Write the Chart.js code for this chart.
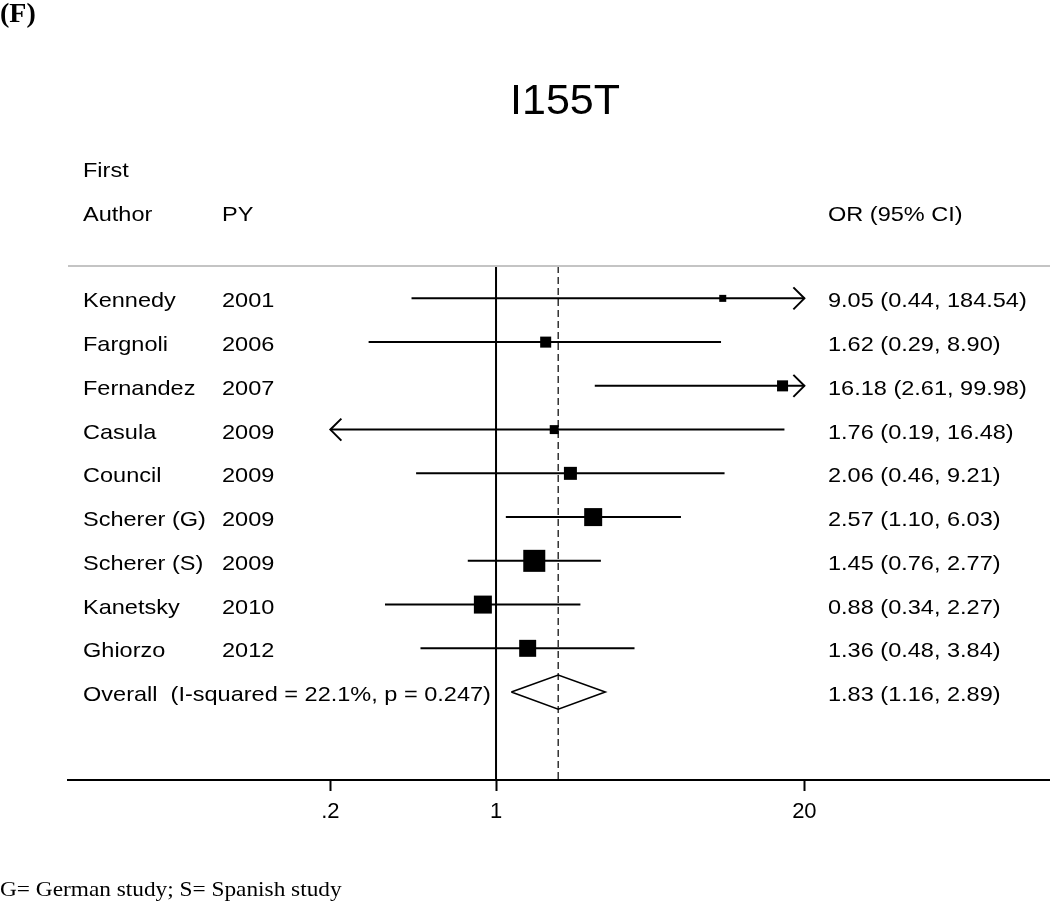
<!DOCTYPE html>
<html>
<head>
<meta charset="utf-8">
<script src="https://cdn.jsdelivr.net/npm/chart.js@4/dist/chart.umd.min.js"></script>
<style>
  html, body { margin: 0; padding: 0; background: #fff; }
  canvas { display: block; }
</style>
</head>
<body>
<canvas id="forest" width="1050" height="903"></canvas>
<script>
// study data
const authors = ['Kennedy', 'Fargnoli', 'Fernandez', 'Casula', 'Council', 'Scherer (G)', 'Scherer (S)', 'Kanetsky', 'Ghiorzo'];
const years = ['2001', '2006', '2007', '2009', '2009', '2009', '2009', '2010', '2012'];
const orVals = [9.05, 1.62, 16.18, 1.76, 2.06, 2.57, 1.45, 0.88, 1.36];
const ciLow = [0.44, 0.29, 2.61, 0.19, 0.46, 1.10, 0.76, 0.34, 0.48];
const ciHigh = [184.54, 8.90, 99.98, 16.48, 9.21, 6.03, 2.77, 2.27, 3.84];
const weights = [2.5, 6.2, 6.2, 4.1, 8.6, 16.5, 24.7, 16.5, 14.7];

const overallOR = 1.83;
const overallLow = 1.16;
const overallHigh = 2.89;
const overallLabel = 'Overall  (I-squared = 22.1%, p = 0.247)';

const tickVals = [0.2, 1, 20];
const tickLabels = ['.2', '1', '20'];

// display limits for CIs (arrows beyond)
const clipLow = 0.2, clipHigh = 20;

const SANS = '"Liberation Sans", Arial, Helvetica, sans-serif';
const SERIF = '"Liberation Serif", "Times New Roman", serif';
const nRows = authors.length;
const yMin = -0.74, yMax = 11.01;
const xMin = 0.01563, xMax = 217.5;

const fmt = v => v.toFixed(2);

// CI line datasets
const ciSets = orVals.map((v, i) => ({
  type: 'line',
  data: [{ x: Math.max(ciLow[i], clipLow), y: i }, { x: Math.min(ciHigh[i], clipHigh), y: i }],
  borderColor: '#000',
  borderWidth: 2,
  pointRadius: 0,
  fill: false,
  order: 3
}));

const boxRadius = weights.map(w => 4.43 * Math.sqrt(w) / Math.SQRT2);
const boxSet = {
  type: 'scatter',
  data: orVals.map((v, i) => ({ x: v, y: i })),
  pointStyle: 'rect',
  pointRadius: boxRadius,
  pointHoverRadius: boxRadius,
  backgroundColor: '#000',
  borderColor: '#000',
  borderWidth: 0,
  order: 1
};

const nullLine = {
  type: 'line',
  data: [{ x: 1, y: yMin }, { x: 1, y: yMax }],
  borderColor: '#000',
  borderWidth: 2,
  pointRadius: 0,
  order: 4
};

const overallLine = {
  type: 'line',
  data: [{ x: overallOR, y: yMin }, { x: overallOR, y: yMax }],
  borderColor: '#333',
  borderWidth: 1.5,
  borderDash: [7, 4],
  pointRadius: 0,
  order: 4
};

const oy = nRows;
const diamond = {
  type: 'line',
  data: [
    { x: overallLow, y: oy }, { x: overallOR, y: oy - 0.39 },
    { x: overallHigh, y: oy }, { x: overallOR, y: oy + 0.39 },
    { x: overallLow, y: oy }
  ],
  borderColor: '#000',
  borderWidth: 1.6,
  pointRadius: 0,
  fill: false,
  tension: 0,
  order: 2
};

function stretchText(ctx, text, x, y, sx) {
  ctx.save();
  ctx.translate(x, y);
  ctx.scale(sx, 1);
  ctx.fillText(text, 0, 0);
  ctx.restore();
}

const forestText = {
  id: 'forestText',
  afterDraw(chart) {
    const ctx = chart.ctx;
    const xs = chart.scales.x, ys = chart.scales.y;
    const area = chart.chartArea;
    const sx = 1.12;
    ctx.save();
    ctx.fillStyle = '#000';
    ctx.textBaseline = 'alphabetic';
    ctx.textAlign = 'left';

    // header rule
    ctx.strokeStyle = '#c4c4c4';
    ctx.lineWidth = 2;
    ctx.beginPath();
    ctx.moveTo(area.left, area.top);
    ctx.lineTo(area.right, area.top);
    ctx.stroke();

    // panel label and title
    ctx.font = 'bold 28px ' + SERIF;
    ctx.fillText('(F)', 0, 22);
    ctx.font = '43px ' + SANS;
    ctx.textAlign = 'center';
    ctx.fillText('I155T', 565, 114);
    ctx.textAlign = 'left';

    // column headers
    ctx.font = '21px ' + SANS;
    stretchText(ctx, 'First', 83, 177, sx);
    stretchText(ctx, 'Author', 83, 221, sx);
    stretchText(ctx, 'PY', 222, 221, sx);
    stretchText(ctx, 'OR (95% CI)', 828, 221, sx);

    // rows
    orVals.forEach((v, i) => {
      const y = ys.getPixelForValue(i) + 9;
      stretchText(ctx, authors[i], 83, y, sx);
      stretchText(ctx, years[i], 222, y, sx);
      stretchText(ctx, fmt(v) + ' (' + fmt(ciLow[i]) + ', ' + fmt(ciHigh[i]) + ')', 828, y, sx);
    });
    const yo = ys.getPixelForValue(nRows) + 9;
    stretchText(ctx, overallLabel, 83, yo, sx);
    stretchText(ctx, fmt(overallOR) + ' (' + fmt(overallLow) + ', ' + fmt(overallHigh) + ')', 828, yo, sx);

    // arrowheads for clipped CIs
    ctx.strokeStyle = '#000';
    ctx.lineWidth = 2;
    orVals.forEach((v, i) => {
      const y = ys.getPixelForValue(i);
      if (ciHigh[i] > clipHigh) {
        const x = xs.getPixelForValue(clipHigh);
        ctx.beginPath();
        ctx.moveTo(x - 11, y - 11); ctx.lineTo(x, y); ctx.lineTo(x - 11, y + 11);
        ctx.stroke();
      }
      if (ciLow[i] < clipLow) {
        const x = xs.getPixelForValue(clipLow);
        ctx.beginPath();
        ctx.moveTo(x + 11, y - 11); ctx.lineTo(x, y); ctx.lineTo(x + 11, y + 11);
        ctx.stroke();
      }
    });

    // footnote
    ctx.font = '21px ' + SERIF;
    stretchText(ctx, 'G= German study; S= Spanish study', 0, 896, 1.11);
    ctx.restore();
  }
};

new Chart(document.getElementById('forest'), {
  type: 'scatter',
  data: { datasets: [...ciSets, boxSet, diamond, nullLine, overallLine] },
  options: {
    responsive: false,
    animation: false,
    layout: { autoPadding: false, padding: { left: 68, right: 0, top: 266, bottom: 0 } },
    plugins: { legend: { display: false }, tooltip: { enabled: false } },
    scales: {
      x: {
        type: 'logarithmic',
        min: xMin,
        max: xMax,
        bounds: 'data',
        afterBuildTicks: s => { s.ticks = tickVals.map(v => ({ value: v })); },
        afterFit: s => { s.height = 123; s.paddingLeft = 0; s.paddingRight = 0; },
        ticks: {
          autoSkip: false,
          maxRotation: 0,
          padding: 8,
          color: '#000',
          font: { family: SANS, size: 22 },
          callback: (v, i) => tickLabels[i]
        },
        grid: { drawOnChartArea: false, drawTicks: true, tickLength: 11, tickColor: '#000', tickWidth: 2 },
        border: { display: true, color: '#000', width: 2 }
      },
      y: {
        type: 'linear',
        reverse: true,
        min: yMin,
        max: yMax,
        display: false
      }
    }
  },
  plugins: [forestText]
});
</script>
</body>
</html>
